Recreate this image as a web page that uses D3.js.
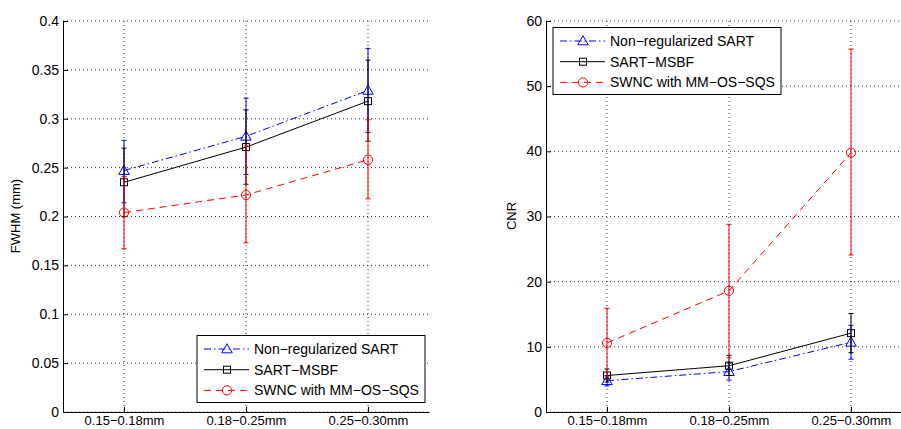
<!DOCTYPE html>
<html>
<head>
<meta charset="utf-8">
<script src="https://cdn.jsdelivr.net/npm/d3@7"></script>
<style>
  body { margin: 0; background: #fff; }
  svg { display: block; font-family: "Liberation Sans", Arial, Helvetica, sans-serif; }
</style>
</head>
<body>
<svg id="chart" width="901" height="429"></svg>
<script>
// categories and tick labels
const categories = ["0.15\u22120.18mm", "0.18\u22120.25mm", "0.25\u22120.30mm"];
const seriesNames = ["Non\u2212regularized SART", "SART\u2212MSBF", "SWNC with MM\u2212OS\u2212SQS"];
const fwhmTicks = [0, 0.05, 0.1, 0.15, 0.2, 0.25, 0.3, 0.35, 0.4];
const cnrTicks = [0, 10, 20, 30, 40, 50, 60];

// FWHM (mm): mean, lower, upper
const fwhmSart   = [0.247, 0.282, 0.329];
const fwhmSartLo = [0.214, 0.243, 0.286];
const fwhmSartHi = [0.278, 0.321, 0.372];
const fwhmMsbf   = [0.235, 0.271, 0.318];
const fwhmMsbfLo = [0.200, 0.233, 0.277];
const fwhmMsbfHi = [0.270, 0.309, 0.360];
const fwhmSwnc   = [0.204, 0.222, 0.258];
const fwhmSwncLo = [0.167, 0.173, 0.218];
const fwhmSwncHi = [0.241, 0.272, 0.299];

// CNR: mean, lower, upper
const cnrSart   = [4.8, 6.2, 10.7];
const cnrSartLo = [4.0, 4.9, 8.1];
const cnrSartHi = [5.6, 7.5, 13.3];
const cnrMsbf   = [5.6, 7.1, 12.1];
const cnrMsbfLo = [4.6, 5.6, 9.1];
const cnrMsbfHi = [6.6, 8.7, 15.1];
const cnrSwnc   = [10.6, 18.6, 39.8];
const cnrSwncLo = [5.4, 8.3, 24.1];
const cnrSwncHi = [15.9, 28.8, 55.7];

const styles = [
  { color: "#0000ff", dash: "7,3,1.5,3", marker: "triangle" },
  { color: "#000000", dash: null, marker: "square" },
  { color: "#ff0000", dash: "7,5", marker: "circle" }
];

const svg = d3.select("#chart");

function marker(g, type, x, y, color) {
  if (type === "triangle") {
    g.append("path")
      .attr("d", d3.symbol().type(d3.symbolTriangle).size(48)())
      .attr("transform", `translate(${x},${y + 0.8})`)
      .attr("fill", "none").attr("stroke", color);
  } else if (type === "square") {
    g.append("rect")
      .attr("x", x - 3.5).attr("y", y - 3.5)
      .attr("width", 7).attr("height", 7)
      .attr("fill", "none").attr("stroke", color);
  } else {
    g.append("circle")
      .attr("cx", x).attr("cy", y).attr("r", 4.6)
      .attr("fill", "none").attr("stroke", color);
  }
}

function drawPanel(opts) {
  const x = d3.scaleLinear().domain([0.5, 3.5]).range([opts.left, opts.left + 366]);
  const y = d3.scaleLinear().domain(opts.domain).range([412, 21]);
  const g = svg.append("g");

  // grid
  g.selectAll(".hgrid").data(opts.ticks).enter().append("line")
    .attr("x1", opts.left).attr("x2", opts.left + 366)
    .attr("y1", d => y(d)).attr("y2", d => y(d))
    .attr("stroke", "#333").attr("stroke-dasharray", "1,3");
  g.selectAll(".vgrid").data(categories).enter().append("line")
    .attr("x1", (d, i) => x(i + 1)).attr("x2", (d, i) => x(i + 1))
    .attr("y1", 21).attr("y2", 412)
    .attr("stroke", "#333").attr("stroke-dasharray", "1,3");

  // axes
  const yAxis = g.append("g").attr("transform", `translate(${opts.left},0)`)
    .call(d3.axisLeft(y).tickValues(opts.ticks).tickFormat(d3.format("~g"))
      .tickSizeInner(-5).tickSizeOuter(0).tickPadding(4));
  const xAxis = g.append("g").attr("transform", "translate(0,412)")
    .call(d3.axisBottom(x).tickValues([1, 2, 3]).tickFormat((d, i) => categories[i])
      .tickSizeInner(-5).tickSizeOuter(0).tickPadding(4));
  [yAxis, xAxis].forEach(a => {
    a.selectAll("text").attr("font-size", 14).attr("fill", "#000");
    a.selectAll("line, path").attr("stroke", "#000");
    a.attr("font-family", null);
  });
  xAxis.selectAll("text").attr("font-size", 13);

  g.append("text")
    .attr("transform", `translate(${opts.labelX},216) rotate(-90)`)
    .attr("text-anchor", "middle").attr("font-size", 13)
    .text(opts.label);

  // series
  opts.series.forEach((s, k) => {
    const st = styles[k];
    const sg = g.append("g");
    sg.selectAll(".err").data(s.mean).enter().append("line")
      .attr("x1", (d, i) => x(i + 1)).attr("x2", (d, i) => x(i + 1))
      .attr("y1", (d, i) => y(s.lo[i])).attr("y2", (d, i) => y(s.hi[i]))
      .attr("stroke", st.color);
    [s.lo, s.hi].forEach(arr => {
      sg.selectAll(".cap").data(arr).enter().append("line")
        .attr("x1", (d, i) => x(i + 1) - 2.5).attr("x2", (d, i) => x(i + 1) + 2.5)
        .attr("y1", d => y(d)).attr("y2", d => y(d))
        .attr("stroke", st.color);
    });
    sg.append("path").datum(s.mean)
      .attr("d", d3.line().x((d, i) => x(i + 1)).y(d => y(d)))
      .attr("fill", "none").attr("stroke", st.color)
      .attr("stroke-dasharray", st.dash);
    s.mean.forEach((d, i) => marker(sg, st.marker, x(i + 1), y(d), st.color));
  });

  // legend
  const lg = g.append("g").attr("transform", `translate(${opts.legend[0]},${opts.legend[1]})`);
  lg.append("rect").attr("width", 228).attr("height", 67)
    .attr("fill", "#fff").attr("stroke", "#000");
  seriesNames.forEach((name, k) => {
    const st = styles[k];
    const ry = 13.5 + k * 20.7;
    lg.append("line").attr("x1", 7).attr("x2", 52).attr("y1", ry).attr("y2", ry)
      .attr("stroke", st.color).attr("stroke-dasharray", st.dash);
    marker(lg, st.marker, 30, ry, st.color);
    lg.append("text").attr("x", 57).attr("y", ry + 5).attr("font-size", 14).text(name);
  });
}

drawPanel({
  left: 63, domain: [0, 0.4], ticks: fwhmTicks, label: "FWHM (mm)", labelX: 20,
  legend: [197, 335.5],
  series: [
    { mean: fwhmSart, lo: fwhmSartLo, hi: fwhmSartHi },
    { mean: fwhmMsbf, lo: fwhmMsbfLo, hi: fwhmMsbfHi },
    { mean: fwhmSwnc, lo: fwhmSwncLo, hi: fwhmSwncHi }
  ]
});

drawPanel({
  left: 546, domain: [0, 60], ticks: cnrTicks, label: "CNR", labelX: 516,
  legend: [553, 27.5],
  series: [
    { mean: cnrSart, lo: cnrSartLo, hi: cnrSartHi },
    { mean: cnrMsbf, lo: cnrMsbfLo, hi: cnrMsbfHi },
    { mean: cnrSwnc, lo: cnrSwncLo, hi: cnrSwncHi }
  ]
});
</script>
</body>
</html>
